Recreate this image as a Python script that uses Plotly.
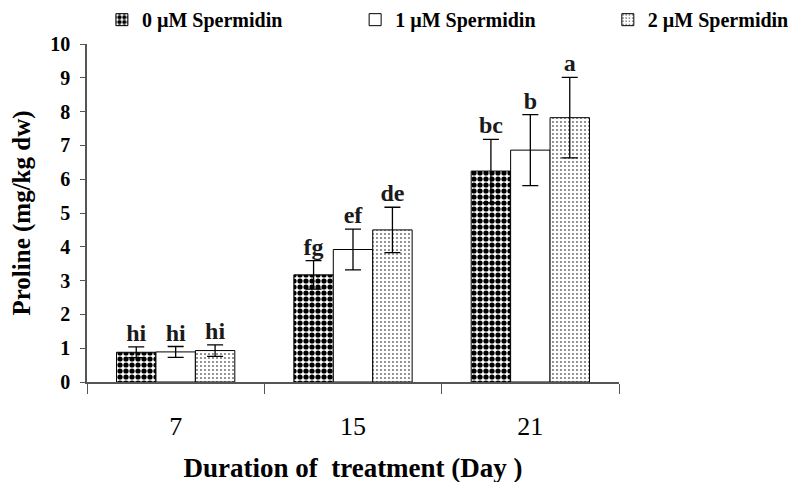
import plotly.graph_objects as go

days = ["7", "15", "21"]
series_names = ["0 µM Spermidin", "1 µM Spermidin", "2 µM Spermidin"]
values = [
    [0.88, 3.17, 6.24],
    [0.89, 3.92, 6.86],
    [0.93, 4.50, 7.82],
]
errors = [
    [0.16, 0.42, 0.94],
    [0.16, 0.60, 1.05],
    [0.17, 0.67, 1.19],
]
letters = [
    ["hi", "fg", "bc"],
    ["hi", "ef", "b"],
    ["hi", "de", "a"],
]
y_ticks = list(range(0, 11))

patterns = [
    dict(shape=".", fgcolor="black", bgcolor="white", size=6, solidity=0.6, fillmode="replace"),
    dict(shape="", bgcolor="white"),
    dict(shape=".", fgcolor="black", bgcolor="white", size=4, solidity=0.12, fillmode="replace"),
]
legend_ids = ["legend", "legend2", "legend3"]
legend_x = [0.028, 0.504, 0.979]

FONT = "Liberation Serif"

fig = go.Figure()
for i, name in enumerate(series_names):
    fig.add_trace(go.Bar(
        x=days, y=values[i], name=name, legend=legend_ids[i],
        offsetgroup=str(i), alignmentgroup="a",
        marker=dict(color="white", line=dict(color="black", width=1), pattern=patterns[i]),
        error_y=dict(type="data", array=errors[i], color="black", thickness=1.3, width=8),
    ))
for i, name in enumerate(series_names):
    fig.add_trace(go.Scatter(
        x=days, y=[v + e for v, e in zip(values[i], errors[i])],
        mode="text", text=letters[i], textposition="top center",
        textfont=dict(family=FONT, size=24, color="#1a1a1a", weight="bold"),
        offsetgroup=str(i), alignmentgroup="a",
        showlegend=False, hoverinfo="skip",
    ))

legend_common = dict(
    orientation="h", y=1.072, xanchor="left", yanchor="middle",
    font=dict(family=FONT, size=20, weight="bold"), itemwidth=30,
    bgcolor="rgba(0,0,0,0)",
)

fig.update_layout(
    width=808, height=482,
    margin=dict(l=79, r=197, t=36, b=108, autoexpand=False),
    paper_bgcolor="white", plot_bgcolor="white",
    barmode="group", scattermode="group",
    bargap=0.333, bargroupgap=0, scattergap=0.333,
    font=dict(family=FONT, color="black"),
    legend=dict(x=legend_x[0], **legend_common),
    legend2=dict(x=legend_x[1], **legend_common),
    legend3=dict(x=legend_x[2], **legend_common),
    xaxis=dict(
        range=[-0.5, 2.5], showline=True, linecolor="#555", linewidth=1.5,
        ticks="outside", tickson="boundaries", ticklen=10, tickcolor="#555",
        tickfont=dict(family=FONT, size=26), ticklabelstandoff=20,
        title=dict(text="<b>Duration of  treatment (Day )</b>", font=dict(family=FONT, size=27), standoff=18),
        showgrid=False, zeroline=False, automargin=False,
    ),
    yaxis=dict(
        range=[0, 10], tickvals=y_ticks, showline=True, linecolor="#555", linewidth=1.5,
        ticks="outside", ticklen=5, tickcolor="#555",
        tickfont=dict(family=FONT, size=20, weight="bold"), ticklabelstandoff=6,
        title=dict(text="<b>Proline (mg/kg dw)</b>", font=dict(family=FONT, size=25), standoff=24),
        showgrid=False, zeroline=False, automargin=False,
    ),
)

fig.write_html("out.html")
